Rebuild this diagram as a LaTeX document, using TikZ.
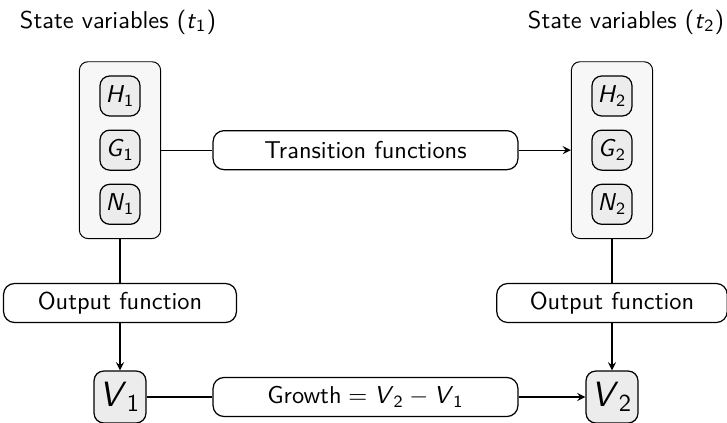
\documentclass[tikz,border=0pt]{standalone}
\usepackage{amsmath,amssymb}
\usetikzlibrary{fit, arrows, positioning, backgrounds}

\newcommand{\svar}[2]{\textit{#1}\textsubscript{#2}}

\begin{document}
\begin{tikzpicture}[> = stealth, % arrow head style
                x = 0.41pt, y = 0.41pt, % one unit per pixel
                node distance = 5.3pt, % distance between variables
                line width = 0.5pt, % line style
                font = \sffamily
            ]

            \tikzstyle{var}=[draw = black, rounded corners = 4pt, fill = gray!15,
            minimum size = 16.4pt, inner sep = 1pt]
            \tikzstyle{state}=[draw = black, rounded corners = 3.5pt, fill = gray!6,
            inner xsep = 8.2pt, inner ysep = 5.6pt]
            \tikzstyle{func}=[draw = black, rounded corners = 4.5pt,
            minimum height = 16pt, inner sep = 1pt]
            \tikzstyle{value}=[var, minimum size = 21.3pt, rounded corners = 4pt,
            font = \sffamily\Large]

            \useasboundingbox (0,0) rectangle (727,422);

            % state variables
            \node (title1) at (118,400) {State variables (\svar{t}{1})};
            \node (title2) at (626,400) {State variables (\svar{t}{2})};

            \node[var] (H1) at (120,326) {\svar{H}{1}}; \node[var] (G1) [below=of H1]
            {\svar{G}{1}}; \node[var] (N1) [below=of G1] {\svar{N}{1}};
            \node[var] (H2) at (612,326) {\svar{H}{2}}; \node[var] (G2) [below=of H2]
            {\svar{G}{2}}; \node[var] (N2) [below=of G2] {\svar{N}{2}};

            \begin{scope}[on background layer]
            \node[state, fit=(H1)(G1)(N1)] (S1) {};
            \node[state, fit=(H2)(G2)(N2)] (S2) {};
            \end{scope}

            % functions and values
            \node[func, minimum width = 125pt] (trans) at (365.5,0 |- S1)
            {Transition functions};
            \node[func, minimum width = 95.5pt] (out1) at (120,119) {Output function};
            \node[func, minimum width = 94.5pt] (out2) at (612,119) {Output function};
            \node[value] (V1) at (120,25) {\svar{V}{1}};
            \node[value] (V2) at (612,25) {\svar{V}{2}};
            \node[func, minimum width = 125pt] (growth) at (365.5,25)
            {Growth${}={}$\svar{V}{2}${}-{}$\svar{V}{1}};

            \path (S1) edge (trans); \path[->] (trans) edge (S2);
            \path (S1) edge (out1); \path[->] (out1) edge (V1);
            \path (S2) edge (out2); \path[->] (out2) edge (V2);
            \path (V1) edge (growth); \path[->] (growth) edge (V2);
        \end{tikzpicture}
\end{document}
